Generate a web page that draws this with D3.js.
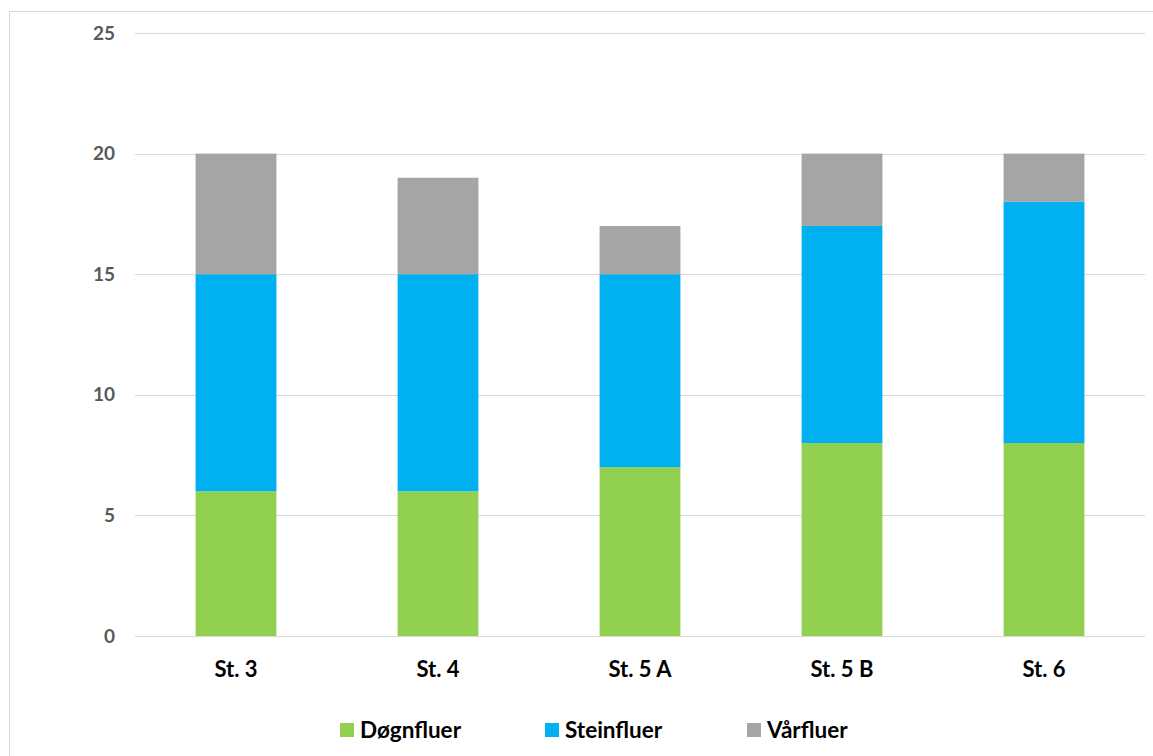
<!DOCTYPE html>
<html>
<head>
<meta charset="utf-8">
<script src="https://cdn.jsdelivr.net/npm/d3@7"></script>
<style>
  body { margin: 0; background: #fff; }
  svg { display: block; font-family: Lato, "Open Sans", sans-serif; }
</style>
</head>
<body>
<svg id="chart" width="1153" height="756"></svg>
<script>
// Data
const stations = ["St. 3", "St. 4", "St. 5 A", "St. 5 B", "St. 6"];
const seriesNames = ["Døgnfluer", "Steinfluer", "Vårfluer"];
const dognfluer = [6, 6, 7, 8, 8];
const steinfluer = [9, 9, 8, 9, 10];
const varfluer = [5, 4, 2, 3, 2];
const yTicks = [0, 5, 10, 15, 20, 25];
const colors = ["#92d050", "#00b0f0", "#a5a5a5"];

const svg = d3.select("#chart");

// Chart border (cut by the window on right/bottom)
svg.append("rect")
    .attr("x", 9.5).attr("y", 11.5)
    .attr("width", 1160).attr("height", 760)
    .attr("fill", "none")
    .attr("stroke", "#d9d9d9")
    .attr("stroke-width", 1);

const x = d3.scaleBand()
    .domain(stations)
    .range([135, 1145])
    .paddingInner(0.6)
    .paddingOuter(0.3);

const y = d3.scaleLinear()
    .domain([0, 25])
    .range([636, 33]);

// Gridlines + y labels
svg.append("g")
    .selectAll("line")
    .data(yTicks)
    .join("line")
    .attr("x1", 135).attr("x2", 1145)
    .attr("y1", d => Math.round(y(d)) + 0.5)
    .attr("y2", d => Math.round(y(d)) + 0.5)
    .attr("stroke", "#d9d9d9")
    .attr("stroke-width", 1);

svg.append("g")
    .selectAll("text")
    .data(yTicks)
    .join("text")
    .attr("x", 115)
    .attr("y", d => y(d))
    .attr("dy", "0.35em")
    .attr("text-anchor", "end")
    .attr("fill", "#595959")
    .attr("font-weight", "bold")
    .style("font-size", "19px")
    .text(d => d);

// Stack the three series
const rows = stations.map((s, i) => ({
    station: s,
    "Døgnfluer": dognfluer[i],
    "Steinfluer": steinfluer[i],
    "Vårfluer": varfluer[i]
}));
const stacked = d3.stack().keys(seriesNames)(rows);

svg.append("g")
    .selectAll("g")
    .data(stacked)
    .join("g")
    .attr("fill", (d, i) => colors[i])
    .selectAll("rect")
    .data(d => d)
    .join("rect")
    .attr("x", d => x(d.data.station))
    .attr("y", d => y(d[1]))
    .attr("width", x.bandwidth())
    .attr("height", d => y(d[0]) - y(d[1]));

// Category labels
svg.append("g")
    .selectAll("text")
    .data(stations)
    .join("text")
    .attr("x", d => x(d) + x.bandwidth() / 2)
    .attr("y", 677)
    .attr("text-anchor", "middle")
    .attr("font-weight", "bold")
    .attr("fill", "#000")
    .style("font-size", "22px")
    .text(d => d);

// Legend
const legendX = [340, 545, 747];
const legend = svg.append("g")
    .selectAll("g")
    .data(seriesNames)
    .join("g")
    .attr("transform", (d, i) => `translate(${legendX[i]}, 730)`);

legend.append("rect")
    .attr("x", 0).attr("y", -7)
    .attr("width", 14).attr("height", 14)
    .attr("fill", (d, i) => colors[i]);

legend.append("text")
    .attr("x", 20)
    .attr("y", 8)
    .attr("font-weight", "bold")
    .attr("fill", "#000")
    .style("font-size", "22.5px")
    .text(d => d);
</script>
</body>
</html>
